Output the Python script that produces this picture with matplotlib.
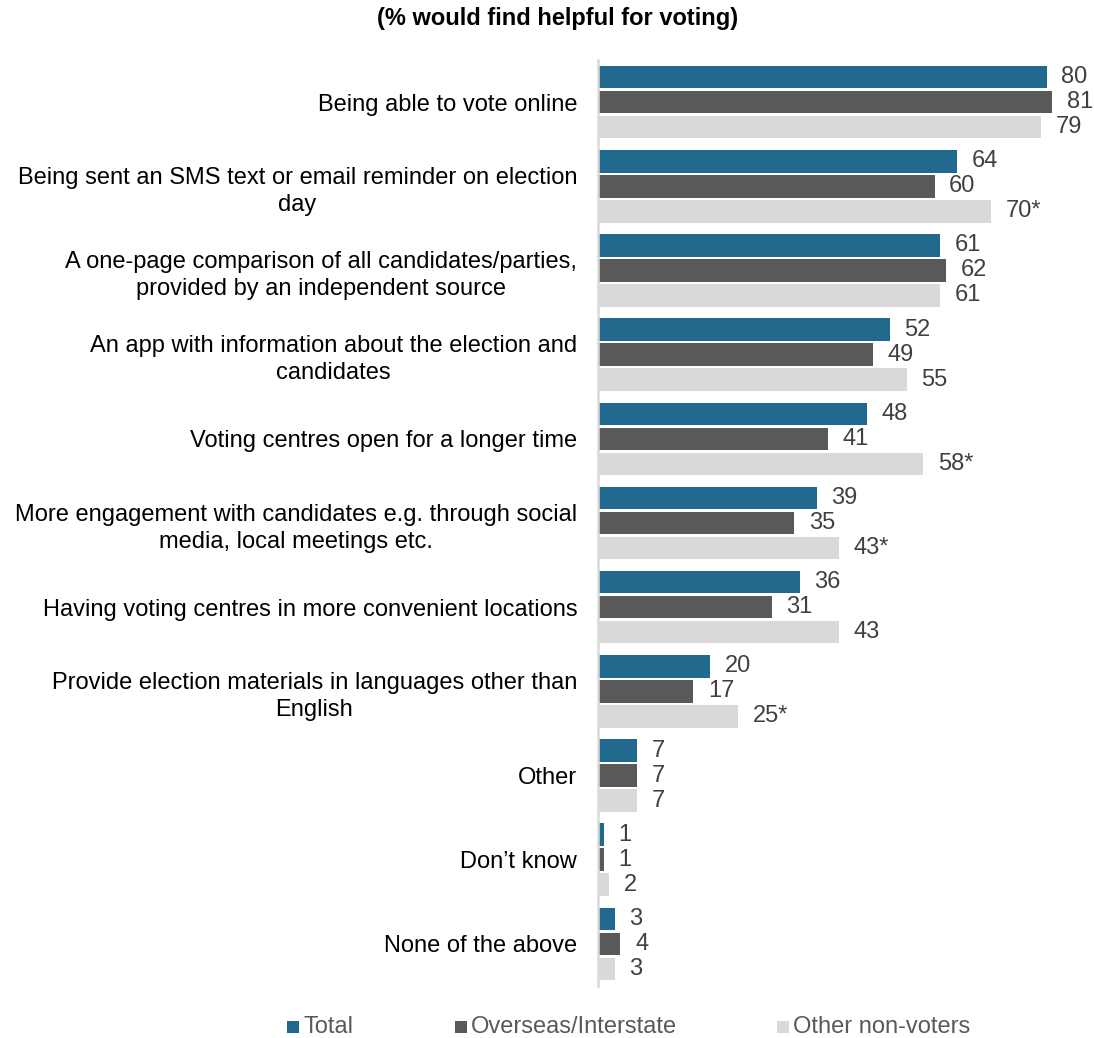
import matplotlib
matplotlib.use("Agg")
import matplotlib.pyplot as plt
import numpy as np
from matplotlib.patches import Rectangle

plt.rcParams['font.family'] = ['Liberation Sans', 'DejaVu Sans']

categories = [
    "Being able to vote online",
    "Being sent an SMS text or email reminder on election\nday",
    "A one-page comparison of all candidates/parties,\nprovided by an independent source",
    "An app with information about the election and\ncandidates",
    "Voting centres open for a longer time",
    "More engagement with candidates e.g. through social\nmedia, local meetings etc.",
    "Having voting centres in more convenient locations",
    "Provide election materials in languages other than\nEnglish",
    "Other",
    "Don\u2019t know",
    "None of the above",
]
series_names = ["Total", "Overseas/Interstate", "Other non-voters"]
total = [80, 64, 61, 52, 48, 39, 36, 20, 7, 1, 3]
overseas = [81, 60, 62, 49, 41, 35, 31, 17, 7, 1, 4]
other = [79, 70, 61, 55, 58, 43, 43, 25, 7, 2, 3]
other_labels = ["79", "70*", "61", "55", "58*", "43*", "43", "25*", "7", "2", "3"]

colors = ["#22698E", "#595959", "#D9D9D9"]
text_color = "#404040"

fig = plt.figure(figsize=(10.94, 10.38), dpi=100)
ax = fig.add_axes([598 / 1094, 1 - 986 / 1038, 1 - 598 / 1094, 926 / 1038])

y = np.arange(len(categories))
slot = 25 / 84.2
bar_h = 22.5 / 84.2
series = [total, overseas, other]
labels = [[str(v) for v in total], [str(v) for v in overseas], other_labels]

for i, (vals, labs) in enumerate(zip(series, labels)):
    pos = y + (i - 1) * slot
    ax.barh(pos, vals, height=bar_h, color=colors[i], edgecolor="none")
    for p, v, lab in zip(pos, vals, labs):
        ax.annotate(lab, xy=(v, p), xytext=(10.5, 0), textcoords="offset points",
                    ha="left", va="center", fontsize=17, color=text_color)

ax.set_ylim(10.5, -0.5)
ax.set_xlim(0, (1094 - 598) / 5.61)
ax.set_yticks(y)
ax.set_yticklabels(categories, fontsize=17, color="black",
                   multialignment="center", linespacing=1.3)
ax.tick_params(axis="y", length=0, pad=15)
ax.set_xticks([])
for s in ["top", "right", "bottom"]:
    ax.spines[s].set_visible(False)
ax.spines["left"].set_color("#D9D9D9")
ax.spines["left"].set_linewidth(1.8)

fig.text(558 / 1094, 1 - 18 / 1038, "(% would find helpful for voting)",
         ha="center", va="center", fontsize=17, fontweight="bold")

# legend entries placed along the bottom
leg_y = 1 - 1027 / 1038
sq_w, sq_h = 12 / 1094, 12 / 1038
for name, col, x0 in zip(series_names, colors, [287, 455, 777]):
    fig.add_artist(Rectangle((x0 / 1094, leg_y - sq_h / 2), sq_w, sq_h,
                             transform=fig.transFigure, facecolor=col, edgecolor="none"))
    fig.text((x0 + 16) / 1094, leg_y, name, ha="left", va="center",
             fontsize=17, color="#595959")

fig.savefig("out.png", dpi=100)
